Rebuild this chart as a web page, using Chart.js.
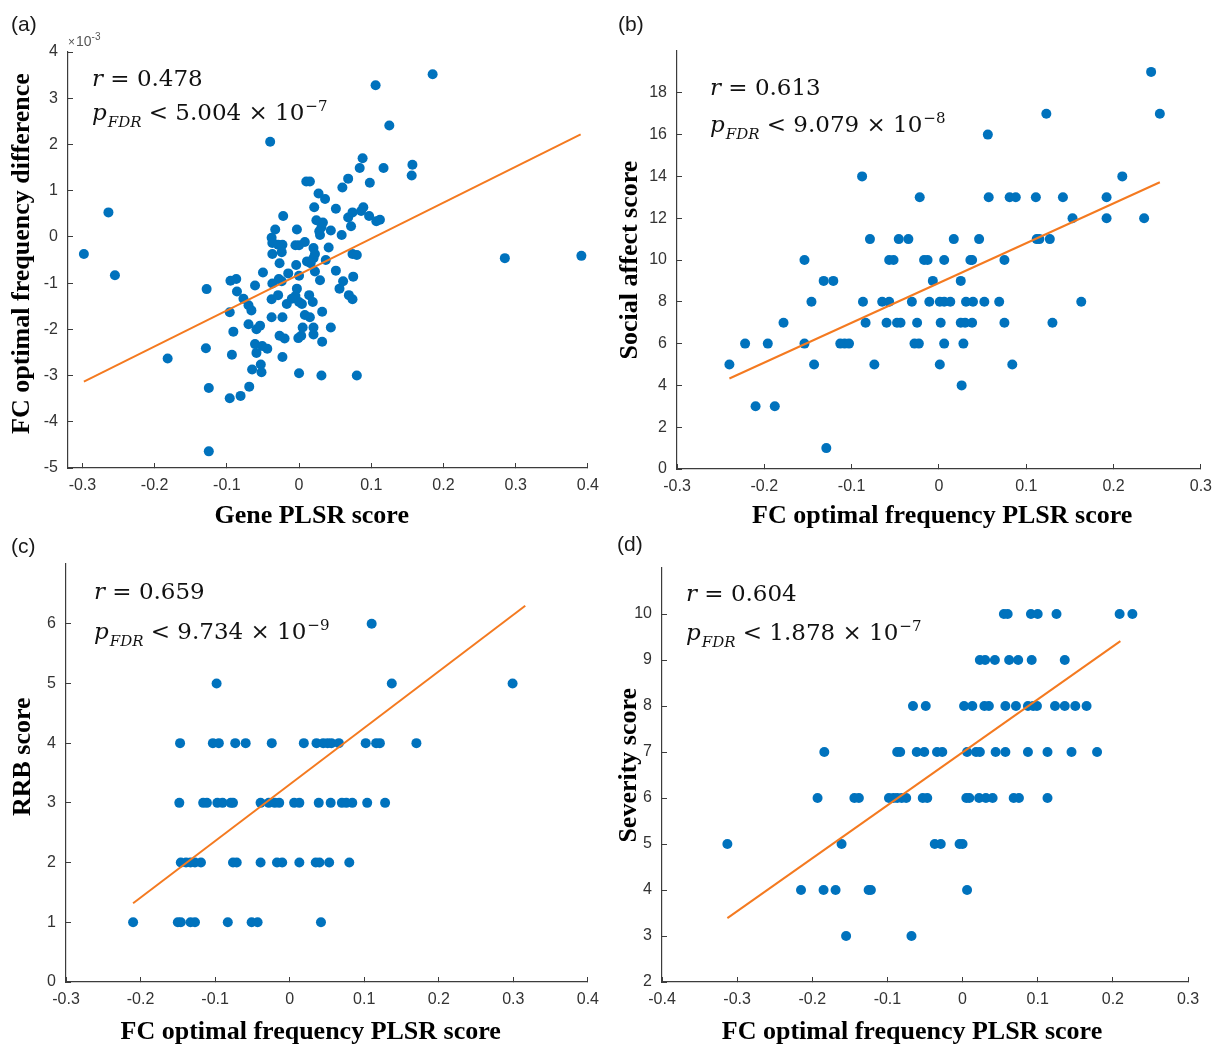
<!DOCTYPE html>
<html>
<head>
<meta charset="utf-8">
<script src="https://cdn.jsdelivr.net/npm/chart.js@4.4.1/dist/chart.umd.min.js"></script>
<style>
  html, body { margin: 0; padding: 0; background: #fff; }
  body { position: relative; width: 1225px; height: 1048px; overflow: hidden; }
  canvas { position: absolute; }
</style>
</head>
<body>
<canvas id="chartA" width="612" height="540" style="left:0;top:0"></canvas>
<canvas id="chartB" width="613" height="540" style="left:612px;top:0"></canvas>
<canvas id="chartC" width="612" height="524" style="left:0;top:524px"></canvas>
<canvas id="chartD" width="613" height="524" style="left:612px;top:524px"></canvas>
<script>
// (a) gene PLSR score vs FC optimal frequency difference (y in units of 10^-3)
const geneScore = [-0.298,-0.264,-0.255,-0.182,-0.128,-0.129,-0.125,-0.125,-0.096,-0.081,-0.069,-0.093,-0.091,-0.096,-0.095,-0.087,-0.086,-0.077,-0.070,-0.066,
  -0.070,-0.061,-0.059,-0.054,-0.061,-0.059,-0.044,-0.051,-0.065,-0.053,-0.052,-0.050,-0.038,-0.038,-0.037,-0.029,-0.028,-0.024,-0.023,-0.027,
  -0.020,-0.023,-0.017,-0.015,-0.027,-0.037,-0.024,-0.023,-0.038,-0.037,-0.033,-0.029,-0.022,-0.040,-0.003,-0.005,0.000,0.008,-0.004,0.000,
  -0.003,-0.005,-0.010,0.000,0.004,0.005,0.003,-0.001,0.000,0.008,0.015,0.020,0.020,0.014,0.019,0.011,0.016,0.022,0.020,0.020,
  0.022,0.029,0.032,0.032,0.031,0.037,0.041,0.044,0.051,0.056,0.061,0.069,0.074,0.075,0.074,0.080,0.080,0.059,0.072,0.068,
  0.074,0.089,0.086,0.097,0.107,0.112,0.051,0.044,0.033,0.036,0.027,0.021,0.024,0.031,0.029,0.028,0.010,0.015,0.060,0.068,
  0.098,0.084,0.088,0.117,0.157,0.156,0.125,0.106,0.185,0.285,0.391];
const freqDiff = [-0.37,0.53,-0.83,-2.63,-1.13,-2.41,-3.27,-4.64,-3.49,-3.44,-3.24,-2.55,-2.05,-1.63,-0.95,-0.91,-1.18,-1.34,-1.48,-1.59,
  -1.89,-1.05,-2.00,-1.92,-2.32,-2.51,-2.42,-2.36,-2.87,-2.76,-2.93,-0.77,-1.74,-1.35,-1.01,-1.26,-0.91,-0.96,-1.74,-2.14,
  -2.20,-2.60,-1.45,-0.79,-0.57,-0.37,-0.33,-0.17,-0.02,-0.13,0.16,-0.17,0.45,2.06,0.16,-0.18,-0.18,-0.11,-0.61,-0.84,
  -1.12,-1.28,-1.34,-1.41,-1.45,-1.96,-2.14,-2.19,-2.95,-1.69,-1.74,-1.96,-2.11,-1.26,-1.41,-0.53,-0.57,-0.75,-0.46,-0.24,
  -0.37,-0.94,-1.62,-2.27,-3.00,-0.50,-0.23,-1.96,-0.73,-1.12,-0.96,-1.26,-1.35,-0.86,-0.37,-0.39,-3.00,0.04,0.23,0.42,
  0.53,0.64,0.56,0.45,0.34,0.37,0.61,0.14,0.31,0.82,0.94,0.64,0.36,0.21,0.04,0.12,1.20,1.20,1.07,1.26,
  1.17,1.49,1.70,1.49,1.56,1.33,2.41,3.28,3.52,-0.46,-0.41];
const fitAX = [-0.298, 0.390];
const fitAY = [-3.13, 2.22];

// (b) FC optimal frequency PLSR score vs social affect score
const fcScoreB = [0.243, 0.123,0.253, 0.056, -0.088,0.210,
  -0.022,0.057,0.081,0.088,0.111,0.142,0.192,
  0.153,0.192,0.235,
  -0.079,-0.046,-0.035,0.017,0.046,0.112,0.115,0.127,
  -0.154,-0.057,-0.052,-0.017,-0.013,0.006,0.036,0.038,0.075,
  -0.132,-0.121,-0.007,0.025,
  -0.146,-0.087,-0.065,-0.057,-0.031,-0.011,0.001,0.006,0.013,0.031,0.039,0.052,0.069,0.163,
  -0.178,-0.084,-0.060,-0.048,-0.044,-0.025,0.002,0.025,0.030,0.038,0.075,0.130,
  -0.222,-0.196,-0.154,-0.113,-0.108,-0.103,-0.028,-0.023,0.006,0.028,
  -0.240,-0.143,-0.074,0.001,0.084,
  0.026,
  -0.210,-0.188,
  -0.129];
const socialAffect = [19, 17,17, 16, 14,14,
  13,13,13,13,13,13,13,
  12,12,12,
  11,11,11,11,11,11,11,11,
  10,10,10,10,10,10,10,10,10,
  9,9,9,9,
  8,8,8,8,8,8,8,8,8,8,8,8,8,8,
  7,7,7,7,7,7,7,7,7,7,7,7,
  6,6,6,6,6,6,6,6,6,6,
  5,5,5,5,5,
  4,
  3,3,
  1];
const fitBX = [-0.240, 0.253];
const fitBY = [4.33, 13.72];

// (c) FC optimal frequency PLSR score vs RRB score
const fcScoreC = [0.110,
  -0.098,0.137,0.299,
  -0.147,-0.103,-0.095,-0.073,-0.059,-0.024,0.019,0.036,0.045,0.051,0.056,0.066,0.102,0.116,0.121,0.170,
  -0.148,-0.116,-0.111,-0.097,-0.090,-0.079,-0.076,-0.039,-0.028,-0.020,-0.014,0.006,0.013,0.039,0.055,0.070,0.076,0.084,0.104,0.128,
  -0.146,-0.139,-0.133,-0.127,-0.119,-0.076,-0.071,-0.039,-0.017,-0.010,0.013,0.035,0.040,0.053,0.080,
  -0.210,-0.150,-0.146,-0.133,-0.127,-0.083,-0.051,-0.043,0.042];
const rrbScore = [6,
  5,5,5,
  4,4,4,4,4,4,4,4,4,4,4,4,4,4,4,4,
  3,3,3,3,3,3,3,3,3,3,3,3,3,3,3,3,3,3,3,3,
  2,2,2,2,2,2,2,2,2,2,2,2,2,2,2,
  1,1,1,1,1,1,1,1,1];
const fitCX = [-0.210, 0.316];
const fitCY = [1.32, 6.30];

// (d) FC optimal frequency PLSR score vs severity score
const fcScoreD = [0.055,0.060,0.091,0.100,0.125,0.209,0.226,
  0.023,0.030,0.043,0.062,0.074,0.092,0.136,
  -0.066,-0.049,0.002,0.013,0.029,0.035,0.057,0.071,0.087,0.094,0.099,0.123,0.136,0.150,0.165,
  -0.184,-0.087,-0.083,-0.061,-0.051,-0.034,-0.027,0.006,0.018,0.023,0.044,0.057,0.087,0.113,0.145,0.179,
  -0.193,-0.144,-0.138,-0.098,-0.092,-0.087,-0.081,-0.075,-0.053,-0.047,0.005,0.009,0.022,0.031,0.040,0.068,0.075,0.113,
  -0.313,-0.161,-0.037,-0.029,-0.004,0.000,
  -0.215,-0.185,-0.169,-0.125,-0.122,0.006,
  -0.155,-0.068];
const severity = [10,10,10,10,10,10,10,
  9,9,9,9,9,9,9,
  8,8,8,8,8,8,8,8,8,8,8,8,8,8,8,
  7,7,7,7,7,7,7,7,7,7,7,7,7,7,7,7,
  6,6,6,6,6,6,6,6,6,6,6,6,6,6,6,6,6,6,
  5,5,5,5,5,5,
  4,4,4,4,4,4,
  3,3];
const fitDX = [-0.313, 0.210];
const fitDY = [3.39, 9.41];

const DOT_COLOR = '#0072BD';
const FIT_COLOR = '#F47A20';
const AXIS_COLOR = '#3c3c3c';
const TICK_COLOR = '#333';
const TICK_FONT = { family: '"Liberation Sans", Arial, sans-serif', size: 16 };
const TITLE_FONT = { family: '"Liberation Serif", "Times New Roman", serif', size: 26, weight: 'bold' };
const STAT_FAMILY = '"DejaVu Serif", serif';

function piece(ctx, text, x, y, font) {
  ctx.font = font;
  ctx.fillText(text, x, y);
  return x + ctx.measureText(text).width;
}

// panel letter, r / p_FDR annotation and the x10^-3 multiplier
const panelText = {
  id: 'panelText',
  afterDraw(chart, args, opts) {
    const { ctx, chartArea } = chart;
    ctx.save();
    ctx.textBaseline = 'alphabetic';
    ctx.textAlign = 'left';
    ctx.fillStyle = '#1a1a1a';
    ctx.font = '21px "Liberation Sans", Arial, sans-serif';
    ctx.fillText(opts.label, opts.labelX, opts.labelY);

    if (opts.multiplier) {
      ctx.fillStyle = '#555';
      let x = piece(ctx, '\u00d7', chartArea.left, chartArea.top - 6, '12px "Liberation Sans", Arial, sans-serif');
      x = piece(ctx, '10', x + 1, chartArea.top - 6, '14px "Liberation Sans", Arial, sans-serif');
      piece(ctx, '-3', x, chartArea.top - 12, '10px "Liberation Sans", Arial, sans-serif');
    }

    ctx.fillStyle = '#111';
    const x0 = chartArea.left + opts.dx;
    const y1 = chartArea.top + opts.dy1;
    const y2 = chartArea.top + opts.dy2;
    let x = piece(ctx, 'r', x0, y1, 'italic 23px ' + STAT_FAMILY);
    piece(ctx, ' = ' + opts.r, x, y1, '23px ' + STAT_FAMILY);
    x = piece(ctx, 'p', x0, y2, 'italic 23px ' + STAT_FAMILY);
    x = piece(ctx, 'FDR', x + 1, y2 + 7, 'italic 15px ' + STAT_FAMILY);
    x = piece(ctx, ' < ' + opts.p + ' \u00d7 10', x, y2, '23px ' + STAT_FAMILY);
    piece(ctx, '\u2212' + opts.exp, x + 1, y2 - 9, '15px ' + STAT_FAMILY);
    ctx.restore();
  }
};

const fmt = v => String(+Number(v).toFixed(2));

function buildChart(id, p) {
  const pts = p.xs.map((x, i) => ({ x, y: p.ys[i] }));
  const fit = p.fitX.map((x, i) => ({ x, y: p.fitY[i] }));
  return new Chart(document.getElementById(id), {
    type: 'scatter',
    data: {
      datasets: [
        { data: fit, showLine: true, borderColor: FIT_COLOR, borderWidth: 2, pointRadius: 0 },
        { data: pts, pointRadius: 5, backgroundColor: DOT_COLOR, borderWidth: 0 }
      ]
    },
    options: {
      responsive: false,
      animation: false,
      devicePixelRatio: 1,
      layout: { autoPadding: false, padding: p.pad },
      plugins: { legend: { display: false }, tooltip: { enabled: false }, panelText: p.text },
      scales: {
        x: {
          type: 'linear',
          min: p.xMin, max: p.xMax,
          afterFit: s => { s.height = p.xHeight; },
          border: { color: AXIS_COLOR, width: 1.2 },
          grid: { drawOnChartArea: false, tickLength: -5, color: AXIS_COLOR },
          ticks: { stepSize: 0.1, includeBounds: false, padding: 13, color: TICK_COLOR, font: TICK_FONT,
                   maxRotation: 0, autoSkip: false, callback: fmt },
          title: { display: true, text: p.xTitle, color: '#000', font: TITLE_FONT, padding: { top: 0, bottom: p.xTitlePad } }
        },
        y: {
          type: 'linear',
          min: p.yMin, max: p.yMax,
          afterFit: s => { s.width = p.yWidth; },
          afterBuildTicks: s => { if (p.hideTop) s.ticks = s.ticks.filter(t => t.value < s.max); },
          border: { color: AXIS_COLOR, width: 1.2 },
          grid: { drawOnChartArea: false, tickLength: -5, color: AXIS_COLOR },
          ticks: { stepSize: p.yStep, includeBounds: false, padding: 15, color: TICK_COLOR, font: TICK_FONT, callback: fmt },
          title: { display: true, text: p.yTitle, color: '#000', font: TITLE_FONT, padding: { top: p.yTitlePad, bottom: 0 } }
        }
      }
    },
    plugins: [panelText]
  });
}

buildChart('chartA', {
  xs: geneScore, ys: freqDiff, fitX: fitAX, fitY: fitAY,
  xMin: -0.32, xMax: 0.4, yMin: -5, yMax: 4, yStep: 1, hideTop: false,
  pad: { left: 0, top: 52, right: 15, bottom: 0 }, yWidth: 68, xHeight: 72,
  xTitle: 'Gene PLSR score     ', xTitlePad: 8,
  yTitle: '  FC optimal frequency difference', yTitlePad: 7,
  text: { label: '(a)', labelX: 11, labelY: 31, multiplier: true, dx: 24, dy1: 34, dy2: 68, r: '0.478', p: '5.004', exp: '7' }
});

buildChart('chartB', {
  xs: fcScoreB, ys: socialAffect, fitX: fitBX, fitY: fitBY,
  xMin: -0.3, xMax: 0.3, yMin: 0, yMax: 20, yStep: 2, hideTop: true,
  pad: { left: 0, top: 51, right: 21, bottom: 0 }, yWidth: 65, xHeight: 71,
  xTitle: ' FC optimal frequency PLSR score', xTitlePad: 8,
  yTitle: 'Social affect score', yTitlePad: 3,
  text: { label: '(b)', labelX: 6, labelY: 31, multiplier: false, dx: 33, dy1: 44, dy2: 81, r: '0.613', p: '9.079', exp: '8' }
});

buildChart('chartC', {
  xs: fcScoreC, ys: rrbScore, fitX: fitCX, fitY: fitCY,
  xMin: -0.3, xMax: 0.4, yMin: 0, yMax: 7, yStep: 1, hideTop: true,
  pad: { left: 0, top: 40, right: 15, bottom: 0 }, yWidth: 66, xHeight: 66,
  xTitle: 'FC optimal frequency PLSR score     ', xTitlePad: 0,
  yTitle: '     RRB score', yTitlePad: 8,
  text: { label: '(c)', labelX: 11, labelY: 29, multiplier: false, dx: 28, dy1: 35, dy2: 75, r: '0.659', p: '9.734', exp: '9' }
});

buildChart('chartD', {
  xs: fcScoreD, ys: severity, fitX: fitDX, fitY: fitDY,
  xMin: -0.4, xMax: 0.3, yMin: 2, yMax: 11, yStep: 1, hideTop: true,
  pad: { left: 0, top: 44, right: 37, bottom: 0 }, yWidth: 50, xHeight: 66,
  xTitle: 'FC optimal frequency PLSR score    ', xTitlePad: 0,
  yTitle: '   Severity score', yTitlePad: 2,
  text: { label: '(d)', labelX: 5, labelY: 27, multiplier: false, dx: 24, dy1: 33, dy2: 72, r: '0.604', p: '1.878', exp: '7' }
});
</script>
</body>
</html>
